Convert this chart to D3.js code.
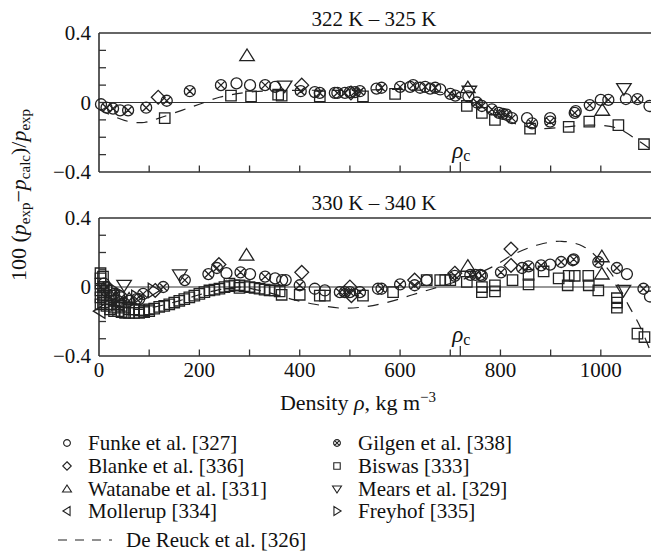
<!DOCTYPE html>
<html><head><meta charset="utf-8">
<script src="https://cdn.jsdelivr.net/npm/d3@7"></script>
</head>
<body style="margin:0;background:#fff"><svg id="c" width="651" height="555" style="display:block"></svg>
<script>
// ---------- DATA ----------
const panelTitles = ["322 K \u2013 325 K", "330 K \u2013 340 K"];
const xTickLabels = [0, 200, 400, 600, 800, 1000];
const yTickLabels = [0.4, 0, -0.4];
const rhoC = 720;

// top panel (322-325 K)
const funkeTop = [[4,-0.01],[42,-0.045],[274,0.11],[301,0.10],[351,0.09],[430,0.06],[470,0.055],[500,0.06],[553,0.08],[620,0.09],[640,0.085],[660,0.08],[680,0.075],[736,0.035],[853,-0.09],[899,-0.09],[950,-0.05],[1000,0.015],[1050,0.02],[1097,-0.02]];
const gilgenTop = [[15,-0.03],[28,-0.035],[58,-0.045],[94,-0.03],[135,0.01],[181,0.065],[243,0.10],[331,0.10],[402,0.065],[440,0.055],[475,0.055],[490,0.055],[510,0.06],[520,0.065],[563,0.085],[600,0.09],[626,0.10],[650,0.09],[670,0.085],[700,0.05],[710,0.04],[753,0.0],[763,-0.02],[783,-0.04],[797,-0.06],[805,-0.065],[812,-0.07],[823,-0.09],[863,-0.12],[899,-0.11],[948,-0.06],[978,-0.015],[1015,0.015],[1073,0.02]];
const blankeTop = [[118,0.03],[404,0.10],[502,0.055]];
const watanabeTop = [[295,0.27],[735,0.085],[1003,-0.045]];
const biswasTop = [[131,-0.09],[263,0.04],[303,0.035],[357,0.045],[364,0.04],[440,0.035],[526,0.035],[590,0.05],[733,-0.02],[763,-0.06],[789,-0.10],[859,-0.15],[936,-0.14],[977,-0.11],[1035,-0.13],[1086,-0.24]];
const mearsTop = [[370,0.095],[738,0.065],[1046,0.08]];
const mollerupTop = [];
const freyhofTop = [];
const deReuckTop = [[0,-0.04],[30,-0.08],[60,-0.11],[90,-0.115],[120,-0.09],[165,-0.045],[200,-0.01],[240,0.03],[300,0.06],[400,0.07],[500,0.07],[600,0.075],[680,0.06],[720,0.03],[760,-0.03],[800,-0.09],[840,-0.13],[880,-0.15],[930,-0.14],[980,-0.13],[1030,-0.145],[1070,-0.21],[1100,-0.27]];

// bottom panel (330-340 K)
const funkeBot = [[10,0.02],[40,-0.05],[80,-0.07],[254,0.08],[301,0.075],[351,0.05],[365,0.04],[372,0.04],[430,-0.01],[450,-0.02],[556,-0.01],[653,0.04],[760,0.07],[899,0.13],[944,0.155],[1052,0.075],[1098,-0.055]];
const gilgenBot = [[15,0.0],[30,-0.04],[45,-0.06],[60,-0.08],[75,-0.07],[88,-0.04],[128,0.0],[171,0.04],[218,0.075],[235,0.11],[282,0.085],[331,0.06],[400,0.01],[480,-0.03],[490,-0.03],[500,-0.03],[520,-0.03],[563,-0.01],[600,0.015],[629,0.01],[709,0.065],[740,0.07],[750,0.07],[763,0.065],[801,0.085],[843,0.11],[856,0.12],[881,0.125],[921,0.145],[946,0.16],[995,0.145],[1032,0.11],[1085,-0.01]];
const blankeBot = [[112,-0.02],[239,0.13],[404,0.085],[500,0.0],[503,-0.05],[629,0.04],[709,0.08],[821,0.22],[821,0.125]];
const watanabeBot = [[60,-0.07],[294,0.185],[735,0.12],[1002,0.175],[1002,0.075]];
const mollerupBot = [[2,-0.14],[25,-0.05],[40,-0.1]];
const mearsBot = [[50,0.01],[161,0.07],[1045,-0.02]];
const freyhofBot = [[30,-0.02],[75,-0.06],[108,-0.02]];
const biswasBot = [[3,0.08],[3,0.05],[3,0.02],[3,-0.02],[3,-0.06],[3,-0.1],[8,0.06],[8,0.0],[8,-0.05],[8,-0.09],[15,-0.02],[15,-0.07],[15,-0.11],[22,-0.05],[22,-0.1],[22,-0.13],[30,-0.08],[30,-0.12],[30,-0.14],[38,-0.1],[38,-0.14],[45,-0.11],[45,-0.145],[52,-0.12],[52,-0.15],[60,-0.13],[60,-0.15],[70,-0.13],[70,-0.15],[80,-0.135],[80,-0.15],[90,-0.135],[90,-0.145],[100,-0.13],[100,-0.14],[110,-0.125],[120,-0.115],[130,-0.11],[140,-0.1],[150,-0.09],[160,-0.08],[170,-0.07],[180,-0.06],[190,-0.05],[200,-0.04],[210,-0.03],[220,-0.02],[230,-0.015],[240,-0.01],[250,0.0],[260,0.005],[260,0.02],[270,0.01],[280,0.01],[280,-0.005],[290,0.005],[300,0.0],[310,-0.005],[320,-0.01],[330,-0.015],[340,-0.02],[350,-0.02],[360,-0.025],[364,-0.045],[400,-0.045],[440,-0.05],[450,-0.05],[526,-0.05],[586,-0.03],[653,0.04],[680,0.04],[690,0.04],[700,0.04],[733,0.03],[763,0.0],[763,-0.03],[789,0.01],[789,-0.025],[824,0.04],[856,0.07],[856,0.015],[886,0.09],[916,0.05],[934,0.01],[936,0.065],[948,0.065],[975,0.065],[976,0.01],[995,-0.02],[1032,-0.065],[1032,-0.09],[1032,-0.12],[1073,-0.27],[1087,-0.29]];
const deReuckBot = [[0,-0.02],[20,-0.08],[50,-0.12],[80,-0.13],[120,-0.11],[160,-0.08],[200,-0.045],[240,-0.015],[280,0.0],[320,-0.02],[360,-0.05],[390,-0.075],[430,-0.10],[480,-0.122],[530,-0.115],[580,-0.085],[625,-0.045],[665,-0.01],[700,0.02],[740,0.06],[786,0.12],[830,0.195],[876,0.245],[922,0.265],[965,0.235],[1000,0.15],[1025,0.06],[1055,-0.105],[1075,-0.21],[1100,-0.38]];

const legendNames = ["Funke et al. [327]","Blanke et al. [336]","Watanabe et al. [331]","Mollerup [334]","Gilgen et al. [338]","Biswas [333]","Mears et al. [329]","Freyhof [335]"];
const legendShapes = ["circle","diamond","triUp","triLeft","otimes","square","triDown","triRight"];
const dashLegend = "De Reuck et al. [326]";

// ---------- SHAPES ----------
function shapePath(type, s) {
  const p = d3.path();
  switch (type) {
    case "circle": p.moveTo(s,0); p.arc(0,0,s,0,2*Math.PI); break;
    case "otimes": {
      p.moveTo(s,0); p.arc(0,0,s,0,2*Math.PI);
      const a = s*0.68;
      p.moveTo(-a,-a); p.lineTo(a,a); p.moveTo(-a,a); p.lineTo(a,-a); break; }
    case "square": { const h=s*0.95; p.rect(-h,-h,2*h,2*h); break; }
    case "diamond": { const h=s*1.25; p.moveTo(0,-h); p.lineTo(h,0); p.lineTo(0,h); p.lineTo(-h,0); p.closePath(); break; }
    case "triUp": { const h=s*1.2; p.moveTo(0,-h); p.lineTo(h*1.1,h*0.75); p.lineTo(-h*1.1,h*0.75); p.closePath(); break; }
    case "triDown": { const h=s*1.2; p.moveTo(0,h); p.lineTo(h*1.1,-h*0.75); p.lineTo(-h*1.1,-h*0.75); p.closePath(); break; }
    case "triLeft": { const h=s*1.2; p.moveTo(-h,0); p.lineTo(h*0.75,-h*1.1); p.lineTo(h*0.75,h*1.1); p.closePath(); break; }
    case "triRight": { const h=s*1.2; p.moveTo(h,0); p.lineTo(-h*0.75,-h*1.1); p.lineTo(-h*0.75,h*1.1); p.closePath(); break; }
  }
  return p.toString();
}

// ---------- LAYOUT ----------
const FONT = "Liberation Serif";
const svg = d3.select("#c");
function txt(sel) { return sel.append("text").style("font-family", FONT).attr("fill","#111"); }
const x = d3.scaleLinear().domain([0,1100]).range([99,651]);
const panels = [
  {title: panelTitles[0], y: d3.scaleLinear().domain([-0.4,0.4]).range([172,33]), titleY: 26,
   series: [["biswas",biswasTop,"square"],["gilgen",gilgenTop,"otimes"],["funke",funkeTop,"circle"],["blanke",blankeTop,"diamond"],["watanabe",watanabeTop,"triUp"],["mears",mearsTop,"triDown"],["mollerup",mollerupTop,"triLeft"],["freyhof",freyhofTop,"triRight"]],
   dash: deReuckTop, xlabels: false},
  {title: panelTitles[1], y: d3.scaleLinear().domain([-0.4,0.4]).range([356,218]), titleY: 210,
   series: [["biswas",biswasBot,"square"],["gilgen",gilgenBot,"otimes"],["funke",funkeBot,"circle"],["blanke",blankeBot,"diamond"],["watanabe",watanabeBot,"triUp"],["mears",mearsBot,"triDown"],["mollerup",mollerupBot,"triLeft"],["freyhof",freyhofBot,"triRight"]],
   dash: deReuckBot, xlabels: true}
];
const axisColor = "#333";

panels.forEach(P => {
  const y = P.y;
  const g = svg.append("g");
  const y0 = y.range()[1], y1 = y.range()[0];
  g.append("line").attr("x1",99).attr("x2",651).attr("y1",y0).attr("y2",y0).attr("stroke",axisColor).attr("stroke-width",1.6);
  g.append("line").attr("x1",99).attr("x2",651).attr("y1",y1).attr("y2",y1).attr("stroke",axisColor).attr("stroke-width",1.6);
  g.append("line").attr("x1",99).attr("x2",99).attr("y1",y0).attr("y2",y1).attr("stroke",axisColor).attr("stroke-width",1.6);
  g.append("line").attr("x1",99).attr("x2",651).attr("y1",y(0)).attr("y2",y(0)).attr("stroke",axisColor).attr("stroke-width",1.1);
  const yt = d3.range(-3,4).map(i=>i/10);
  g.selectAll(".yt").data(yt).enter().append("line")
    .attr("x1",99).attr("x2",106).attr("y1",d=>y(d)).attr("y2",d=>y(d)).attr("stroke",axisColor).attr("stroke-width",1.3);
  const xt = d3.range(100,1100,100);
  g.selectAll(".xt").data(xt).enter().append("line")
    .attr("x1",d=>x(d)).attr("x2",d=>x(d)).attr("y1",y1).attr("y2",y1-6.5).attr("stroke",axisColor).attr("stroke-width",1.3);
  g.append("line").attr("x1",x(rhoC)).attr("x2",x(rhoC)).attr("y1",y1).attr("y2",y1-10).attr("stroke",axisColor).attr("stroke-width",1.3);
  const rl = txt(g).attr("x",x(rhoC)-8).attr("y",y1-14).attr("font-size",23);
  rl.append("tspan").attr("font-style","italic").text("\u03c1");
  rl.append("tspan").attr("font-size",16).attr("dy",3).text("c");
  yTickLabels.forEach(d => {
    txt(g).attr("x",91).attr("y",y(d)+7).attr("text-anchor","end").attr("font-size",21)
      .text(d===0 ? "0" : (d<0 ? "\u2212" : "") + Math.abs(d).toFixed(1));
  });
  if (P.xlabels) {
    xTickLabels.forEach(d => {
      txt(g).attr("x",x(d)).attr("y",y1+21).attr("text-anchor","middle").attr("font-size",21).text(d);
    });
  }
  txt(g).attr("x",374).attr("y",P.titleY).attr("text-anchor","middle").attr("font-size",21).text(P.title);
  const line = d3.line().x(d=>x(d[0])).y(d=>y(d[1])).curve(d3.curveCatmullRom.alpha(0.5));
  g.append("path").datum(P.dash).attr("d",line).attr("fill","none").attr("stroke","#222")
    .attr("stroke-width",1.2).attr("stroke-dasharray","11,9");
  P.series.forEach(([name, data, shape]) => {
    g.selectAll("."+name).data(data).enter().append("path")
      .attr("transform",d=>`translate(${x(d[0])},${y(d[1])})`)
      .attr("d",shapePath(shape,5.5)).attr("fill","none").attr("stroke","#222").attr("stroke-width",1.3);
  });
});

const xl = txt(svg).attr("x",358).attr("y",410).attr("text-anchor","middle").attr("font-size",22);
xl.append("tspan").text("Density ");
xl.append("tspan").attr("font-style","italic").text("\u03c1");
xl.append("tspan").text(", kg m");
xl.append("tspan").attr("font-size",15).attr("dy",-8).text("\u22123");

const ylab = txt(svg).attr("transform","translate(26,195) rotate(-90)").attr("text-anchor","middle").attr("font-size",22);
ylab.append("tspan").text("100 (");
ylab.append("tspan").attr("font-style","italic").text("p");
ylab.append("tspan").attr("font-size",15).attr("dy",4).text("exp");
ylab.append("tspan").attr("dy",-4).text("\u2212");
ylab.append("tspan").attr("font-style","italic").text("p");
ylab.append("tspan").attr("font-size",15).attr("dy",4).text("calc");
ylab.append("tspan").attr("dy",-4).text(")/");
ylab.append("tspan").attr("font-style","italic").text("p");
ylab.append("tspan").attr("font-size",15).attr("dy",4).text("exp");

const rowsY = [443,466,489,511];
legendNames.forEach((n,i) => {
  const col = Math.floor(i/4), row = i%4;
  const sx = col===0 ? 67 : 337;
  svg.append("path").attr("transform",`translate(${sx},${rowsY[row]})`)
    .attr("d",shapePath(legendShapes[i],3.4)).attr("fill","none").attr("stroke","#222").attr("stroke-width",1.1);
  txt(svg).attr("x",sx+21).attr("y",rowsY[row]+6.5).attr("font-size",21).text(n);
});
svg.append("line").attr("x1",58).attr("x2",112).attr("y1",540).attr("y2",540).attr("stroke","#222").attr("stroke-width",1.2).attr("stroke-dasharray","9,8");
txt(svg).attr("x",126).attr("y",546.5).attr("font-size",21).text(dashLegend);
</script></body></html>
